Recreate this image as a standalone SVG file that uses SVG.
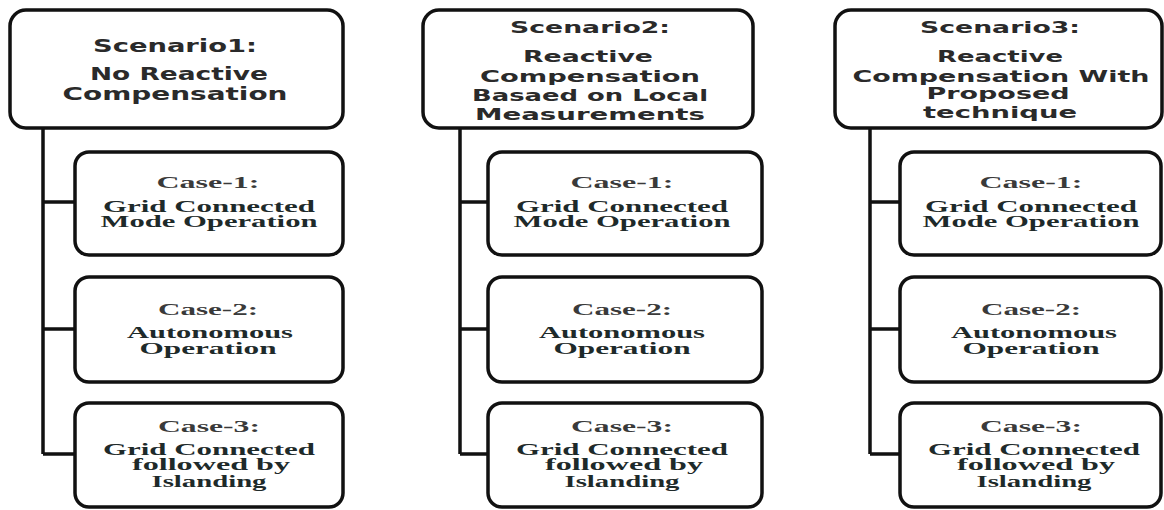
<svg xmlns="http://www.w3.org/2000/svg" width="1164" height="510" viewBox="0 0 1164 510">
<style>
.box{fill:#fff;stroke:#111;stroke-width:3.5}
.conn{fill:none;stroke:#111;stroke-width:3.5}
.sc{font-family:"DejaVu Sans","Liberation Sans",sans-serif;font-weight:bold;fill:#2a2a2a;text-anchor:middle}
.cs{font-family:"Liberation Serif","DejaVu Serif",serif;font-weight:bold;fill:#1e2a2a;text-anchor:middle;font-size:16px}
.ch{font-family:"Liberation Serif","DejaVu Serif",serif;font-weight:bold;fill:#3a3a3a;text-anchor:middle;font-size:17px}
</style>
<rect width="1164" height="510" fill="#fff"/>
<g id="connectors">
<path class="conn" d="M43,128 V454 M43,202 H75 M43,329 H75 M43,454 H75"/>
<path class="conn" d="M460,128 V454 M460,202 H488 M460,329 H488 M460,454 H488"/>
<path class="conn" d="M870,128 V454 M870,202 H900 M870,329 H900 M870,454 H900"/>
</g>
<g id="scenario1">
<rect class="box" x="10" y="10" width="333" height="118" rx="16"/>
<text class="sc" font-size="18" x="175" y="52" textLength="164" lengthAdjust="spacingAndGlyphs">Scenario1:</text>
<text class="sc" font-size="18" x="179" y="80" textLength="178" lengthAdjust="spacingAndGlyphs">No Reactive</text>
<text class="sc" font-size="18" x="175" y="100" textLength="225" lengthAdjust="spacingAndGlyphs">Compensation</text>
</g>
<g id="s1case1">
<rect class="box" x="75" y="152" width="268" height="103" rx="14"/>
<text class="ch" x="208" y="188" textLength="103" lengthAdjust="spacingAndGlyphs">Case-1:</text>
<text class="cs" x="209" y="212" textLength="212" lengthAdjust="spacingAndGlyphs">Grid Connected</text>
<text class="cs" x="209" y="227" textLength="217" lengthAdjust="spacingAndGlyphs">Mode Operation</text>
</g>
<g id="s1case2">
<rect class="box" x="75" y="277" width="268" height="105" rx="14"/>
<text class="ch" x="208" y="315" textLength="100" lengthAdjust="spacingAndGlyphs">Case-2:</text>
<text class="cs" x="210" y="338" textLength="166" lengthAdjust="spacingAndGlyphs">Autonomous</text>
<text class="cs" x="208" y="354" textLength="137" lengthAdjust="spacingAndGlyphs">Operation</text>
</g>
<g id="s1case3">
<rect class="box" x="75" y="403" width="268" height="104" rx="14"/>
<text class="ch" x="209" y="432" textLength="102" lengthAdjust="spacingAndGlyphs">Case-3:</text>
<text class="cs" x="209" y="455" textLength="212" lengthAdjust="spacingAndGlyphs">Grid Connected</text>
<text class="cs" x="211" y="470" textLength="158" lengthAdjust="spacingAndGlyphs">followed  by</text>
<text class="cs" x="209" y="487" textLength="115" lengthAdjust="spacingAndGlyphs">Islanding</text>
</g>
<g id="scenario2">
<rect class="box" x="423" y="10" width="330" height="118" rx="16"/>
<text class="sc" font-size="15" x="590" y="33" textLength="160" lengthAdjust="spacingAndGlyphs">Scenario2:</text>
<text class="sc" font-size="15" x="588" y="62" textLength="130" lengthAdjust="spacingAndGlyphs">Reactive</text>
<text class="sc" font-size="15" x="590" y="82" textLength="220" lengthAdjust="spacingAndGlyphs">Compensation</text>
<text class="sc" font-size="15" x="590" y="101" textLength="236" lengthAdjust="spacingAndGlyphs">Basaed on Local</text>
<text class="sc" font-size="15" x="590" y="120" textLength="230" lengthAdjust="spacingAndGlyphs">Measurements</text>
</g>
<g id="s2case1">
<rect class="box" x="488" y="152" width="274" height="103" rx="14"/>
<text class="ch" x="622" y="188" textLength="103" lengthAdjust="spacingAndGlyphs">Case-1:</text>
<text class="cs" x="622" y="212" textLength="212" lengthAdjust="spacingAndGlyphs">Grid Connected</text>
<text class="cs" x="622" y="227" textLength="217" lengthAdjust="spacingAndGlyphs">Mode Operation</text>
</g>
<g id="s2case2">
<rect class="box" x="488" y="277" width="274" height="105" rx="14"/>
<text class="ch" x="622" y="315" textLength="100" lengthAdjust="spacingAndGlyphs">Case-2:</text>
<text class="cs" x="622" y="338" textLength="166" lengthAdjust="spacingAndGlyphs">Autonomous</text>
<text class="cs" x="622" y="354" textLength="137" lengthAdjust="spacingAndGlyphs">Operation</text>
</g>
<g id="s2case3">
<rect class="box" x="488" y="403" width="274" height="104" rx="14"/>
<text class="ch" x="622" y="432" textLength="102" lengthAdjust="spacingAndGlyphs">Case-3:</text>
<text class="cs" x="622" y="455" textLength="212" lengthAdjust="spacingAndGlyphs">Grid Connected</text>
<text class="cs" x="624" y="470" textLength="158" lengthAdjust="spacingAndGlyphs">followed  by</text>
<text class="cs" x="622" y="487" textLength="115" lengthAdjust="spacingAndGlyphs">Islanding</text>
</g>
<g id="scenario3">
<rect class="box" x="835" y="10" width="327" height="118" rx="16"/>
<text class="sc" font-size="15" x="1000" y="33" textLength="160" lengthAdjust="spacingAndGlyphs">Scenario3:</text>
<text class="sc" font-size="15" x="1000" y="62" textLength="126" lengthAdjust="spacingAndGlyphs">Reactive</text>
<text class="sc" font-size="15" x="1001" y="82" textLength="297" lengthAdjust="spacingAndGlyphs">Compensation With</text>
<text class="sc" font-size="15" x="998" y="99" textLength="143" lengthAdjust="spacingAndGlyphs">Proposed</text>
<text class="sc" font-size="15" x="1000" y="118" textLength="154" lengthAdjust="spacingAndGlyphs">technique</text>
</g>
<g id="s3case1">
<rect class="box" x="900" y="152" width="261" height="103" rx="14"/>
<text class="ch" x="1031" y="188" textLength="103" lengthAdjust="spacingAndGlyphs">Case-1:</text>
<text class="cs" x="1031" y="212" textLength="212" lengthAdjust="spacingAndGlyphs">Grid Connected</text>
<text class="cs" x="1031" y="227" textLength="217" lengthAdjust="spacingAndGlyphs">Mode Operation</text>
</g>
<g id="s3case2">
<rect class="box" x="900" y="277" width="261" height="105" rx="14"/>
<text class="ch" x="1031" y="315" textLength="100" lengthAdjust="spacingAndGlyphs">Case-2:</text>
<text class="cs" x="1034" y="338" textLength="166" lengthAdjust="spacingAndGlyphs">Autonomous</text>
<text class="cs" x="1031" y="354" textLength="137" lengthAdjust="spacingAndGlyphs">Operation</text>
</g>
<g id="s3case3">
<rect class="box" x="900" y="403" width="261" height="104" rx="14"/>
<text class="ch" x="1031" y="432" textLength="102" lengthAdjust="spacingAndGlyphs">Case-3:</text>
<text class="cs" x="1034" y="455" textLength="212" lengthAdjust="spacingAndGlyphs">Grid Connected</text>
<text class="cs" x="1036" y="470" textLength="158" lengthAdjust="spacingAndGlyphs">followed  by</text>
<text class="cs" x="1034" y="487" textLength="115" lengthAdjust="spacingAndGlyphs">Islanding</text>
</g>
</svg>
